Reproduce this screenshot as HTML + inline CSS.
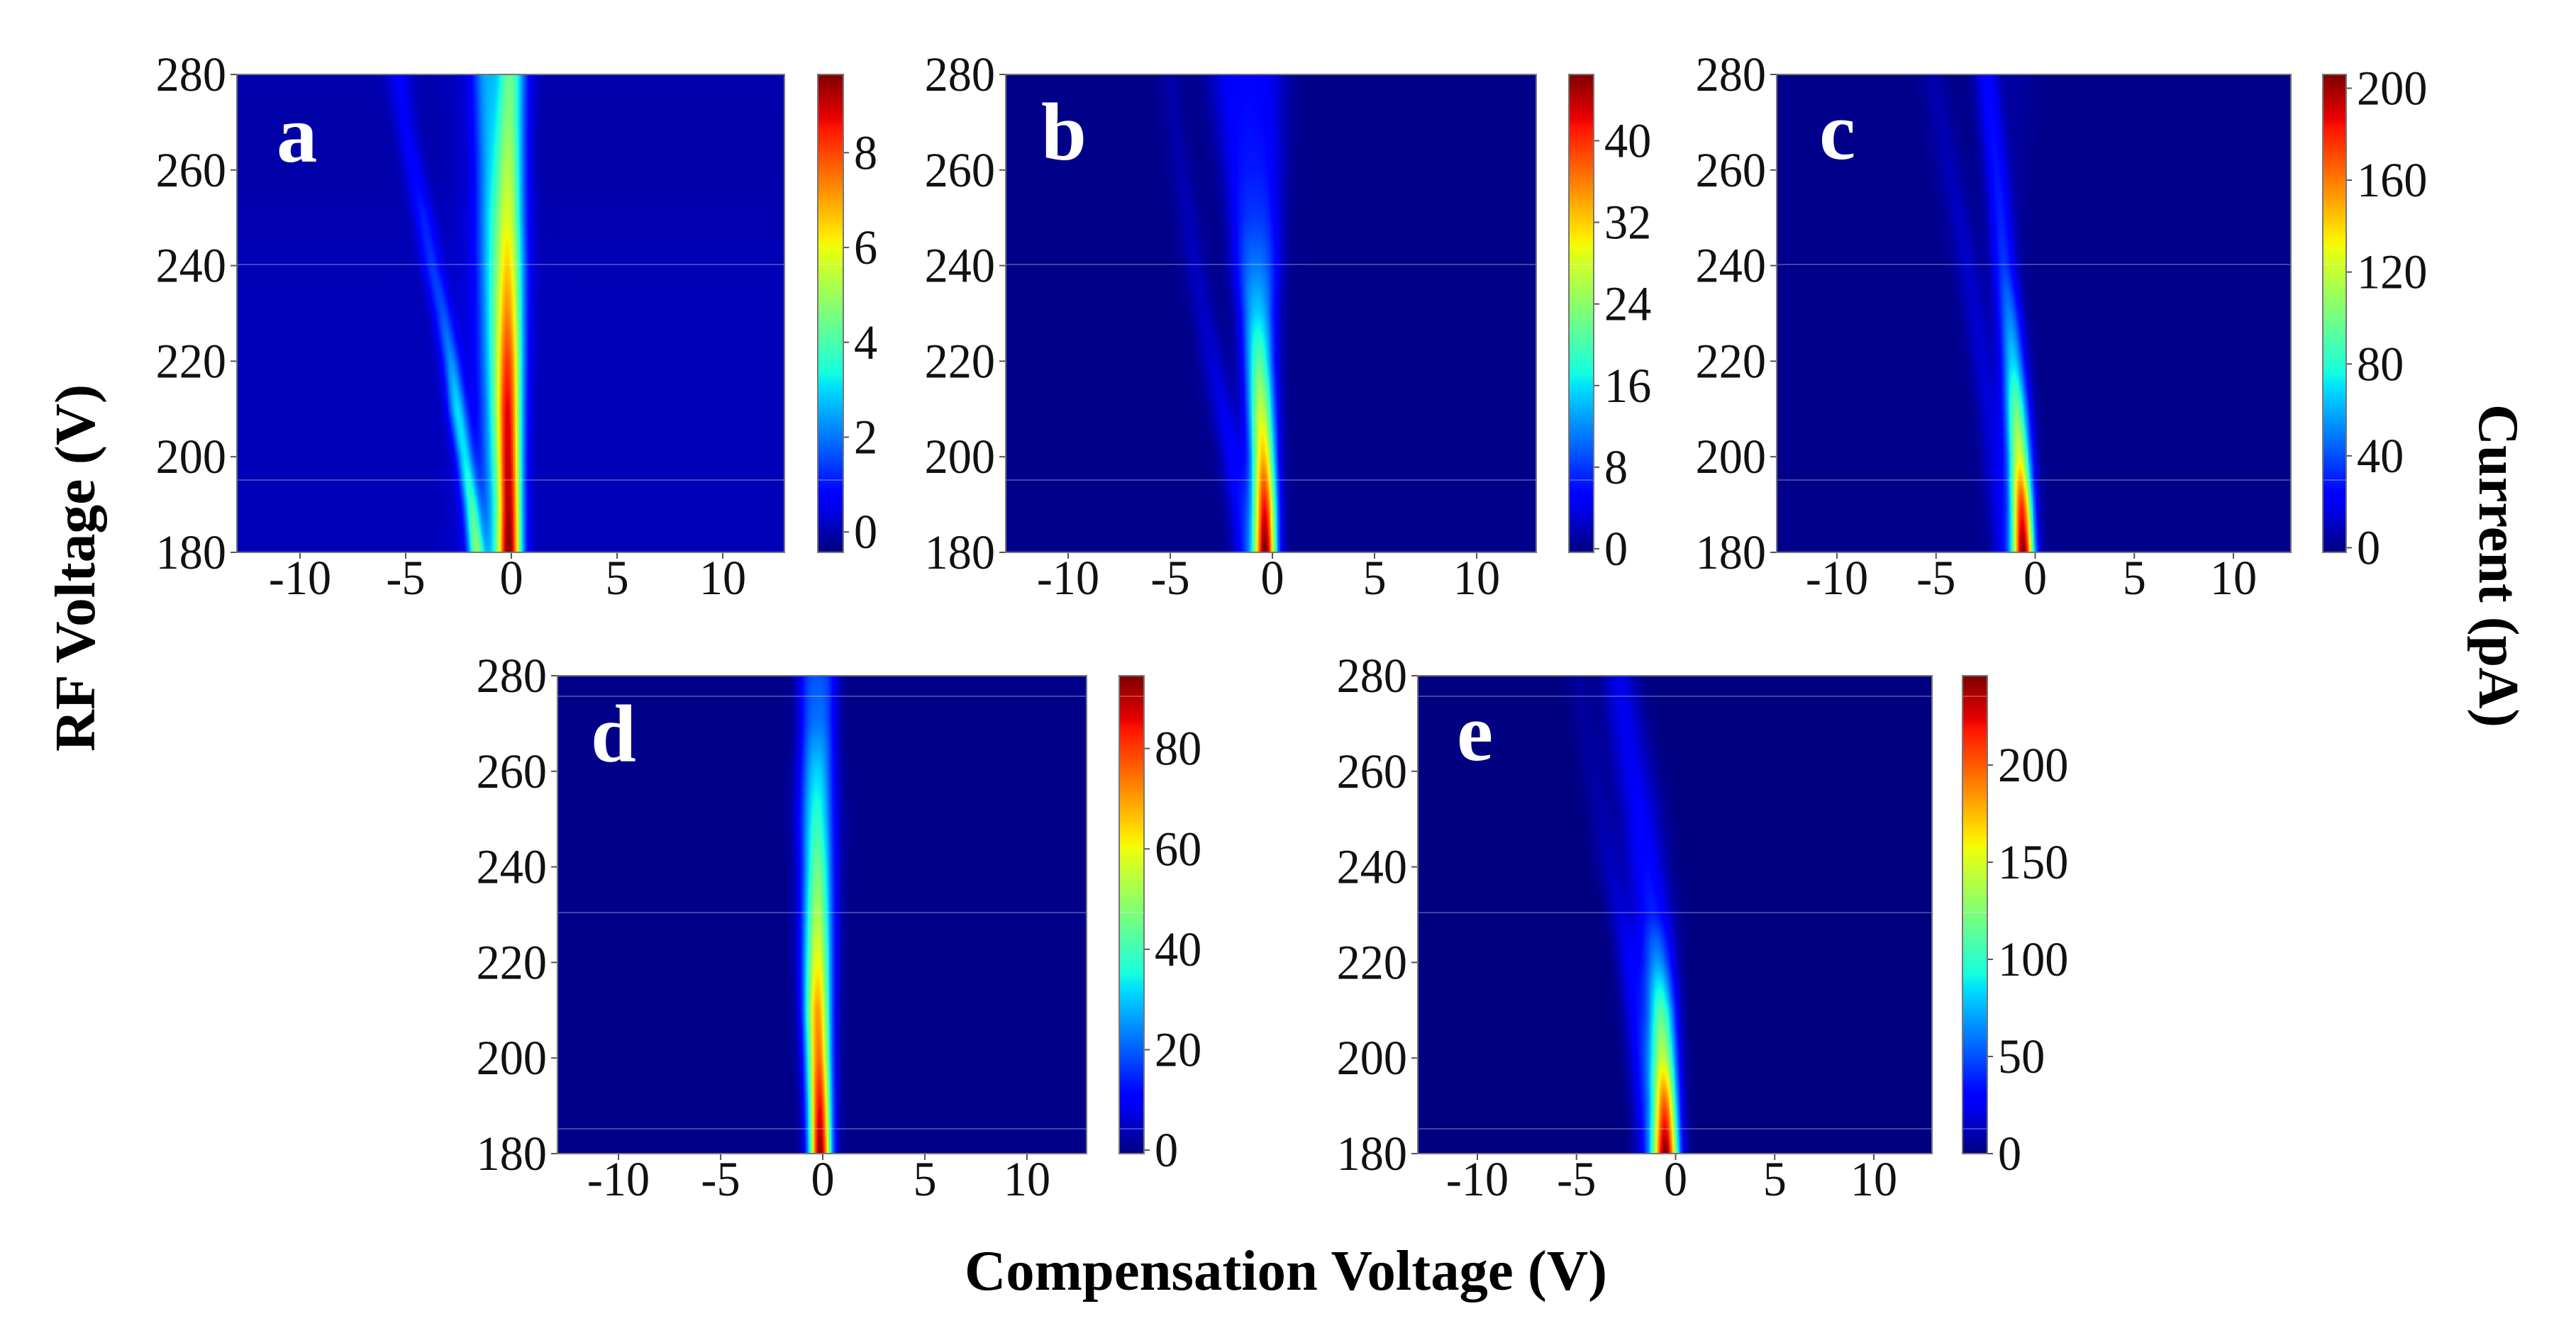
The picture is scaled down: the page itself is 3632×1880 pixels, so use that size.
<!DOCTYPE html>
<html lang="en">
<head>
<meta charset="utf-8">
<title>RF Voltage vs Compensation Voltage heatmaps</title>
<style>
  html, body { margin: 0; padding: 0; background: #fff; }
  #figure { position: relative; width: 3632px; height: 1880px; overflow: hidden; background: #fff; }
  canvas { position: absolute; display: block; }
  #overlay { position: absolute; left: 0; top: 0; }
  text { font-family: "Liberation Serif", serif; fill: #111; }
  .tick-text { font-size: 69px; }
  .axis-title { font-size: 80px; font-weight: bold; fill: #000; }
  .panel-letter { font-size: 115px; font-weight: bold; fill: #fff; }
</style>
</head>
<body>
<div id="figure">
  <svg id="overlay" width="3632" height="1880" viewBox="0 0 3632 1880" xmlns="http://www.w3.org/2000/svg">
    <text class="axis-title" transform="translate(133 801) rotate(-90)" text-anchor="middle" textLength="518" lengthAdjust="spacingAndGlyphs">RF Voltage (V)</text>
    <text class="axis-title" transform="translate(3496 798) rotate(90)" text-anchor="middle" textLength="456" lengthAdjust="spacingAndGlyphs">Current (pA)</text>
    <text class="axis-title" x="1813" y="1819" text-anchor="middle" textLength="906" lengthAdjust="spacingAndGlyphs">Compensation Voltage (V)</text>
  </svg>
</div>
<script>
// ---- shared axis data ----
const rfLevels = [180, 190, 200, 210, 220, 230, 240, 250, 260, 270, 280];
const rfTickValues = [180, 200, 220, 240, 260, 280];
const cvTickValues = [-10, -5, 0, 5, 10];

// ---- panel a: ridge positions (V), heights (pA), widths (V) per RF level ----
const aMainCenter = [-0.1, -0.1, -0.13, -0.15, -0.15, -0.15, -0.15, -0.15, -0.13, -0.1, -0.05];
const aMainHeight = [9.25, 8.9, 8.7, 8.4, 7.8, 6.9, 6.2, 5.5, 5.1, 4.6, 4.2];
const aMainWidth = [0.4, 0.4, 0.42, 0.44, 0.46, 0.48, 0.5, 0.5, 0.5, 0.5, 0.5];
const aLeftCenter = [-1.65, -1.88, -2.2, -2.55, -2.85, -3.25, -3.75, -4.15, -4.6, -5.05, -5.3];
const aLeftHeight = [4.2, 3.4, 2.8, 2.8, 2.1, 1.5, 1.3, 1.1, 0.85, 0.7, 0.7];
const aLeftWidth = [0.27, 0.27, 0.28, 0.3, 0.3, 0.32, 0.33, 0.33, 0.35, 0.38, 0.4];
const aShoulderCenter = [-0.9, -0.95, -1, -1, -1.05, -1.05, -1.1, -1.1, -1.15, -1.2, -1.25];
const aShoulderHeight = [1.4, 1.4, 1.4, 1.4, 1.5, 1.6, 1.6, 1.7, 1.7, 1.8, 1.9];
const aShoulderWidth = [0.4, 0.4, 0.4, 0.4, 0.4, 0.4, 0.4, 0.4, 0.4, 0.4, 0.4];
const aHaloCenter = [-1.4, -1.4, -1.4, -1.4, -1.4, -1.4, -1.4, -1.4, -1.4, -1.4, -1.4];
const aHaloHeight = [0.4, 0.4, 0.4, 0.4, 0.4, 0.4, 0.4, 0.4, 0.4, 0.4, 0.4];
const aHaloWidth = [1, 1, 1, 1, 1, 1, 1, 1, 1, 1, 1];
const aBackground = [0.06, 0.05, 0.04, 0.05, 0.05, 0.05, 0.03, 0, -0.08, -0.08, -0.02];
const aColorRange = [-0.43, 9.65];
const aColorTicks = [0, 2, 4, 6, 8];

// ---- panel b ----
const bMainCenter = [-0.35, -0.38, -0.45, -0.55, -0.65, -0.72, -0.78, -0.85, -0.95, -1.1, -1.25];
const bMainHeight = [46, 41, 33, 27, 21, 15, 11, 8, 6.5, 5.8, 5.5];
const bMainWidth = [0.38, 0.4, 0.42, 0.46, 0.5, 0.62, 0.83, 0.98, 1.12, 1.28, 1.42];
const bMainShape = [2, 2, 2, 2, 2, 2.3, 2.6, 3, 3, 3, 3];
const bLeftCenter = [-1.2, -1.5, -1.9, -2.4, -2.9, -3.35, -3.8, -4.1, -4.45, -4.8, -5];
const bLeftHeight = [7, 6, 5, 4, 3, 2.4, 2.2, 1.8, 1.4, 1.2, 1.2];
const bLeftWidth = [0.45, 0.45, 0.45, 0.45, 0.45, 0.42, 0.4, 0.4, 0.4, 0.4, 0.4];
const bBackground = [0.1, 0.1, 0.05, 0.05, 0.05, 0.05, 0.05, 0.05, 0.05, 0.05, 0.05];
const bColorRange = [-0.35, 46.5];
const bColorTicks = [0, 8, 16, 24, 32, 40];

// ---- panel c ----
const cMainCenter = [-0.6, -0.68, -0.8, -0.95, -1.12, -1.32, -1.57, -1.75, -1.95, -2.2, -2.45];
const cMainHeight = [205, 175, 125, 98, 68, 50, 35, 30, 27, 25, 24];
const cMainWidth = [0.38, 0.38, 0.4, 0.42, 0.42, 0.42, 0.42, 0.42, 0.42, 0.42, 0.42];
const cLeftCenter = [-1.5, -1.75, -2, -2.3, -2.65, -3, -3.4, -3.85, -4.3, -4.75, -5.2];
const cLeftHeight = [20, 18, 16, 14, 13, 12, 11, 10, 8, 7, 6];
const cLeftWidth = [0.45, 0.45, 0.45, 0.45, 0.45, 0.45, 0.45, 0.45, 0.45, 0.45, 0.45];
const cHaloCenter = [-0.9, -0.9, -0.9, -0.9, -0.9, -0.9, -0.9, -0.9, -0.9, -0.9, -0.9];
const cHaloHeight = [0, 0, 0, 0, 0, 0, 0, 1, 2, 3, 4];
const cHaloWidth = [0.6, 0.6, 0.6, 0.6, 0.6, 0.6, 0.6, 0.6, 0.6, 0.6, 0.6];
const cBackground = [0, 0, 0, 0, 0, 0, 0, 0, 0, 0, 0];
const cColorRange = [-2, 206];
const cColorTicks = [0, 40, 80, 120, 160, 200];

// ---- panel d ----
const dMainCenter = [-0.12, -0.15, -0.2, -0.25, -0.25, -0.25, -0.25, -0.28, -0.28, -0.25, -0.25];
const dMainHeight = [94, 85, 75, 70, 60, 52, 45, 38, 31, 22, 19];
const dMainWidth = [0.37, 0.39, 0.42, 0.45, 0.48, 0.5, 0.52, 0.56, 0.6, 0.68, 0.75];
const dMainShape = [2, 2, 2, 2, 2, 2, 2, 2, 2.2, 2.8, 3];
const dBackground = [0, 0, 0, 0, 0, 0, 0, 0, 0, 0, 0];
const dColorRange = [-0.7, 94.5];
const dColorTicks = [0, 20, 40, 60, 80];

// ---- panel e ----
const eMainCenter = [-0.5, -0.55, -0.64, -0.73, -0.9, -1.14, -1.5, -1.75, -2.15, -2.55, -2.85];
const eMainHeight = [242, 200, 143, 110, 68, 38, 32, 28, 25, 24, 23];
const eMainWidth = [0.44, 0.44, 0.48, 0.5, 0.55, 0.65, 0.7, 0.7, 0.7, 0.65, 0.6];
const eLeftCenter = [-1.3, -1.55, -1.75, -2, -2.3, -2.75, -3.35, -3.75, -4.15, -4.55, -4.95];
const eLeftHeight = [30, 30, 30, 28, 26, 17, 12, 9, 7, 6, 6];
const eLeftWidth = [0.45, 0.45, 0.45, 0.45, 0.45, 0.45, 0.45, 0.45, 0.45, 0.45, 0.45];
const eBackground = [0, 0, 0, 0, 0, 0, 0, 0, 0, 0, 0];
const eColorRange = [0, 246];
const eColorTicks = [0, 50, 100, 150, 200];

// ---- panel layout (pixels) ----
const panels = [
  { id: 'a', box: [334, 1106, 105, 779], bar: [1153, 1189], cvPx: [423, 1019], letter: [390, 228], lines: [373, 677],
    bg: aBackground, range: aColorRange, ticks: aColorTicks,
    ridges: [[aMainCenter, aMainHeight, aMainWidth], [aLeftCenter, aLeftHeight, aLeftWidth], [aShoulderCenter, aShoulderHeight, aShoulderWidth], [aHaloCenter, aHaloHeight, aHaloWidth]] },
  { id: 'b', box: [1418, 2166, 105, 779], bar: [2212, 2247], cvPx: [1506, 2082], letter: [1468, 225], lines: [373, 677],
    bg: bBackground, range: bColorRange, ticks: bColorTicks,
    ridges: [[bMainCenter, bMainHeight, bMainWidth, bMainShape], [bLeftCenter, bLeftHeight, bLeftWidth]] },
  { id: 'c', box: [2505, 3230, 105, 779], bar: [3275, 3308], cvPx: [2590, 3149], letter: [2565, 224], lines: [373, 677],
    bg: cBackground, range: cColorRange, ticks: cColorTicks,
    ridges: [[cMainCenter, cMainHeight, cMainWidth], [cLeftCenter, cLeftHeight, cLeftWidth], [cHaloCenter, cHaloHeight, cHaloWidth]] },
  { id: 'd', box: [786, 1532, 953, 1627], bar: [1578, 1613], cvPx: [872, 1448], letter: [833, 1074], lines: [982, 1287, 1592],
    bg: dBackground, range: dColorRange, ticks: dColorTicks,
    ridges: [[dMainCenter, dMainHeight, dMainWidth, dMainShape]] },
  { id: 'e', box: [1999, 2724, 953, 1627], bar: [2767, 2802], cvPx: [2083, 2642], letter: [2054, 1072], lines: [982, 1287, 1592],
    bg: eBackground, range: eColorRange, ticks: eColorTicks,
    ridges: [[eMainCenter, eMainHeight, eMainWidth], [eLeftCenter, eLeftHeight, eLeftWidth]] }
];

const CV_STEP = 0.05;
const RF_STEP = 0.5;
const SVG_NS = 'http://www.w3.org/2000/svg';
const figure = document.getElementById('figure');
const overlay = document.getElementById('overlay');

function linearScale(d0, d1, r0, r1) {
  const fn = v => r0 + (v - d0) * (r1 - r0) / (d1 - d0);
  fn.invert = p => d0 + (p - r0) * (d1 - d0) / (r1 - r0);
  return fn;
}

// matplotlib "jet" colormap
function jet(t) {
  t = Math.max(0, Math.min(1, t));
  const seg = (pts) => {
    for (let i = 1; i < pts.length; i++) {
      if (t <= pts[i][0]) {
        const f = (t - pts[i - 1][0]) / (pts[i][0] - pts[i - 1][0]);
        return pts[i - 1][1] + f * (pts[i][1] - pts[i - 1][1]);
      }
    }
    return pts[pts.length - 1][1];
  };
  const r = seg([[0, 0], [0.35, 0], [0.66, 1], [0.89, 1], [1, 0.5]]);
  const g = seg([[0, 0], [0.125, 0], [0.375, 1], [0.64, 1], [0.91, 0], [1, 0]]);
  const b = seg([[0, 0.5], [0.11, 1], [0.34, 1], [0.65, 0], [1, 0]]);
  return 'rgb(' + Math.round(r * 255) + ',' + Math.round(g * 255) + ',' + Math.round(b * 255) + ')';
}
const colorTable = [];
for (let i = 0; i <= 512; i++) colorTable.push(jet(i / 512));

function atRf(series, rf) {
  const pos = (rf - rfLevels[0]) / (rfLevels[1] - rfLevels[0]);
  const i = Math.max(0, Math.min(series.length - 2, Math.floor(pos)));
  return series[i] + (pos - i) * (series[i + 1] - series[i]);
}

function svgNode(tag, attrs, text) {
  const node = document.createElementNS(SVG_NS, tag);
  for (const k in attrs) node.setAttribute(k, attrs[k]);
  if (text !== undefined) node.textContent = text;
  overlay.appendChild(node);
  return node;
}

function makeCanvas(x, y, w, h) {
  const cv = document.createElement('canvas');
  cv.width = w;
  cv.height = h;
  cv.style.left = x + 'px';
  cv.style.top = y + 'px';
  figure.insertBefore(cv, overlay);
  return cv;
}

function drawHeatmap(p, xScale, yScale, colorIndex) {
  const [left, right, top, bottom] = p.box;
  const canvas = makeCanvas(left, top, right - left, bottom - top);
  
  
  const ctx = canvas.getContext('2d');
  const cvStart = xScale.invert(left);
  const cvEnd = xScale.invert(right);
  for (let rf = rfLevels[0]; rf < rfLevels[rfLevels.length - 1]; rf += RF_STEP) {
    const yTop = Math.round(yScale(rf + RF_STEP));
    const yBot = Math.round(yScale(rf));
    const rfMid = rf + RF_STEP / 2;
    const base = atRf(p.bg, rfMid);
    const params = p.ridges.map(r => [atRf(r[0], rfMid), atRf(r[1], rfMid), atRf(r[2], rfMid), r[3] ? atRf(r[3], rfMid) : 2]);
    for (let cv = cvStart; cv < cvEnd; cv += CV_STEP) {
      let value = base;
      const cvMid = cv + CV_STEP / 2;
      for (const q of params) {
        const z = Math.abs(cvMid - q[0]) / q[2];
        value += q[1] * Math.exp(-0.5 * Math.pow(z, q[3]));
      }
      const xA = Math.round(xScale(cv));
      const xB = Math.round(xScale(cv + CV_STEP));
      ctx.fillStyle = colorTable[colorIndex(value)];
      ctx.fillRect(xA - left, yTop - top, Math.max(1, xB - xA), yBot - yTop);
    }
  }
}

function drawColorbar(p, barScale, colorIndex) {
  const [, , top, bottom] = p.box;
  const [barLeft, barRight] = p.bar;
  const canvas = makeCanvas(barLeft, top, barRight - barLeft, bottom - top);
  
  
  const ctx = canvas.getContext('2d');
  for (let py = top; py < bottom; py++) {
    ctx.fillStyle = colorTable[colorIndex(barScale.invert(py + 0.5))];
    ctx.fillRect(0, py - top, barRight - barLeft, 1);
  }
}

function drawAxes(p, xScale, yScale, barScale) {
  const [left, right, top, bottom] = p.box;
  const [barLeft, barRight] = p.bar;

  for (const rf of rfTickValues) {
    const y = yScale(rf);
    const tick = svgNode('line', { x1: left - 9, x2: left, y1: y, y2: y, stroke: '#555', 'stroke-width': 2 });
    
    
    const label = svgNode('text', { transform: 'translate(' + (left - 15) + ' ' + (y + 23) + ') scale(0.96 1)', 'text-anchor': 'end', class: 'tick-text' }, String(rf));
    
    
  }
  for (const cv of cvTickValues) {
    const x = xScale(cv);
    const tick = svgNode('line', { x1: x, x2: x, y1: bottom, y2: bottom + 9, stroke: '#555', 'stroke-width': 2 });
    
    
    const label = svgNode('text', { transform: 'translate(' + x + ' ' + (bottom + 59) + ') scale(0.96 1)', 'text-anchor': 'middle', class: 'tick-text' }, String(cv));
    
    
  }
  for (const v of p.ticks) {
    const y = barScale(v);
    const tick = svgNode('line', { x1: barRight, x2: barRight + 8, y1: y, y2: y, stroke: '#555', 'stroke-width': 2 });
    
    
    const label = svgNode('text', { transform: 'translate(' + (barRight + 15) + ' ' + (y + 23) + ') scale(0.96 1)', class: 'tick-text' }, String(v));
    
    
  }
  for (const y of p.lines) {
    const a = svgNode('line', { x1: left, x2: right, y1: y, y2: y, stroke: '#fff', 'stroke-opacity': 0.35, 'stroke-width': 1.5 });
    
    
    const b = svgNode('line', { x1: barLeft, x2: barRight, y1: y, y2: y, stroke: '#fff', 'stroke-opacity': 0.35, 'stroke-width': 1.5 });
    
    
  }
  const frame = svgNode('rect', { x: left, y: top, width: right - left, height: bottom - top, fill: 'none', stroke: '#777', 'stroke-width': 2 });
  
  
  const barFrame = svgNode('rect', { x: barLeft, y: top, width: barRight - barLeft, height: bottom - top, fill: 'none', stroke: '#777', 'stroke-width': 2 });
  
  
  const letter = svgNode('text', { x: p.letter[0], y: p.letter[1], class: 'panel-letter' }, p.id);
  
  
}

for (const p of panels) {
  const [left, right, top, bottom] = p.box;
  const xScale = linearScale(-10, 10, p.cvPx[0], p.cvPx[1]);
  const yScale = linearScale(rfLevels[0], rfLevels[rfLevels.length - 1], bottom, top);
  const barScale = linearScale(p.range[0], p.range[1], bottom, top);
  const colorIndex = v => Math.max(0, Math.min(512, Math.round(512 * (v - p.range[0]) / (p.range[1] - p.range[0]))));
  drawHeatmap(p, xScale, yScale, colorIndex);
  drawColorbar(p, barScale, colorIndex);
  drawAxes(p, xScale, yScale, barScale);
}
</script>
</body>
</html>
